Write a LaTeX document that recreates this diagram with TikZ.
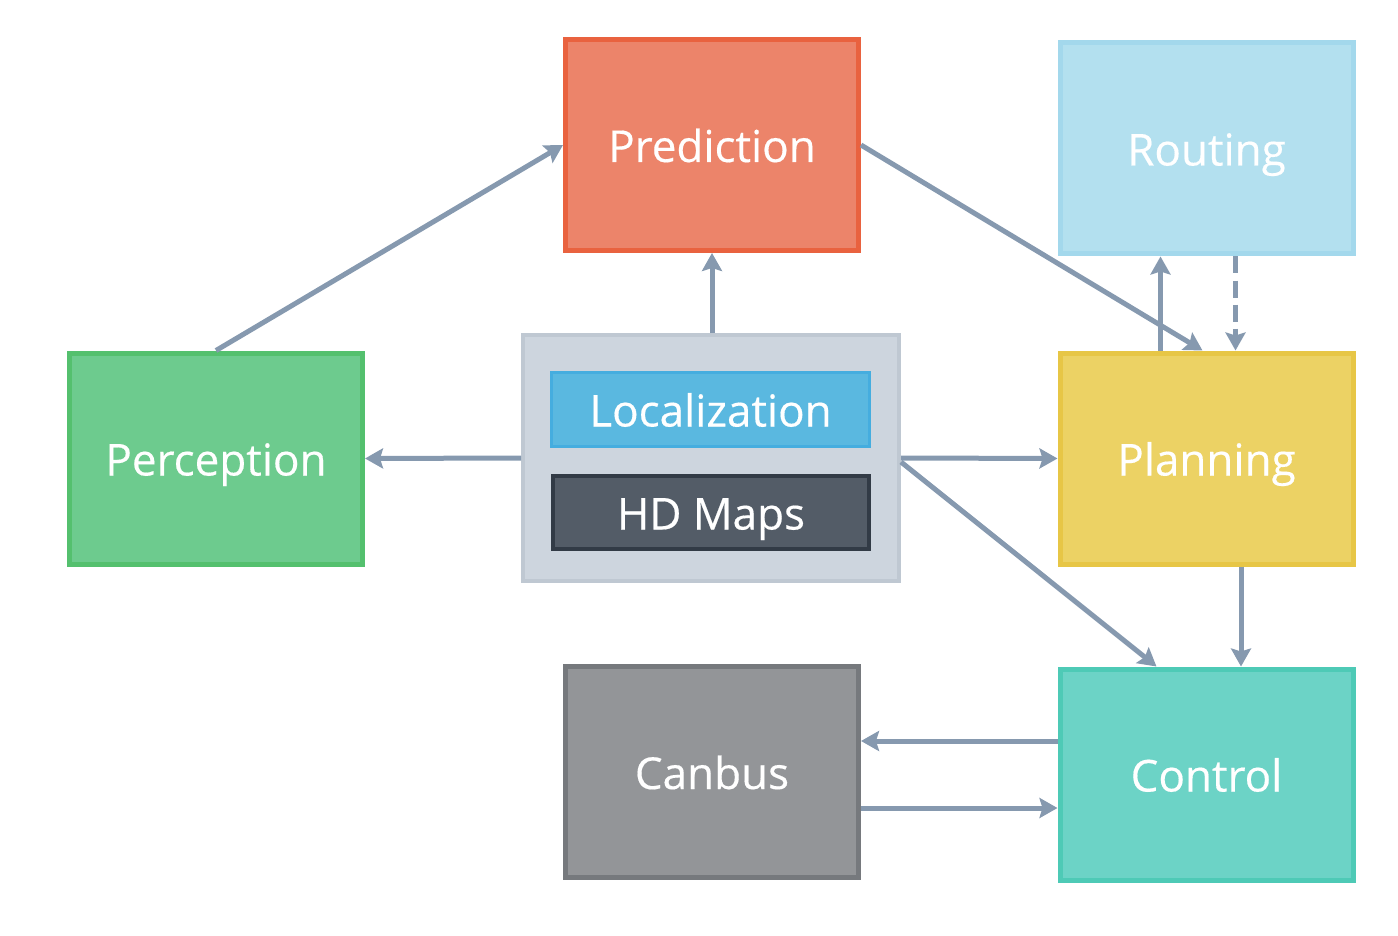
\documentclass[tikz,border=0pt]{standalone}
\usepackage{fontspec}
\setmainfont[FakeBold=0.35]{Open Sans}
\usetikzlibrary{arrows.meta,calc}
\definecolor{arrc}{HTML}{8699AF}
\definecolor{predF}{HTML}{EC846A}\definecolor{predB}{HTML}{E9623F}
\definecolor{routF}{HTML}{B3E0EF}\definecolor{routB}{HTML}{A3D8EC}
\definecolor{percF}{HTML}{6DCB8E}\definecolor{percB}{HTML}{54C06E}
\definecolor{planF}{HTML}{ECD264}\definecolor{planB}{HTML}{E7C646}
\definecolor{ctrlF}{HTML}{6CD3C6}\definecolor{ctrlB}{HTML}{4ECAB6}
\definecolor{canF}{HTML}{939598}\definecolor{canB}{HTML}{76797D}
\definecolor{hubF}{HTML}{CDD5DE}\definecolor{hubB}{HTML}{BFC8D2}
\definecolor{locF}{HTML}{5AB8E0}\definecolor{locB}{HTML}{45ADDF}
\definecolor{mapF}{HTML}{535C67}\definecolor{mapB}{HTML}{323B46}
\tikzset{
  label text/.style={text=white, font=\fontsize{44}{50}\selectfont, text height=41pt, text depth=7pt},
  module/.style={draw=#1B, fill=#1F, line width=5pt, minimum width=293pt, minimum height=211pt,
    inner sep=0pt, label text},
  arr/.style={draw=arrc, line width=5pt, -{Stealth[length=18pt,width=20pt,inset=3pt]}},
}
\begin{document}
\begin{tikzpicture}[x=1pt,y=-1pt]
\useasboundingbox (0,0) rectangle (1398,936);
\node[module=pred] (pred) at (712,145) {Prediction};
\node[module=rout] (route) at (1206.5,148.5) {Routing};
\node[module=perc] (percep) at (216,458.5) {Perception};
\node[module=plan] (plan) at (1206.5,458.5) {Planning};
\node[module=ctrl] (ctrl) at (1206.5,774.5) {Control};
\node[module=can] (canbus) at (712,772) {Canbus};
\node[draw=hubB, fill=hubF, line width=4pt, minimum width=376pt, minimum height=246pt, inner sep=0pt] (hub) at (711,458) {};
\node[draw=locB, fill=locF, line width=2.5pt, minimum width=318pt, minimum height=74pt, inner sep=0pt,
  label text] (loc) at (710.5,409.5) {Localization};
\node[draw=mapB, fill=mapF, line width=4pt, minimum width=316pt, minimum height=73pt, inner sep=0pt,
  label text] (maps) at (711,512.5) {HD Maps};
% connectors
\draw[arr] (percep.north) -- (pred.west);
\draw[arr] (hub.north -| pred.south) -- (pred.south);
\draw[arr] (hub.west) -- (percep.east);
\draw[arr] (hub.east) -- (plan.west);
\draw[arr] ($(hub.east)+(0,4)$) -- ($(ctrl.north)+(-50,0)$);
\draw[arr] (pred.east) -- ($(plan.north)+(-4,0)$);
\draw[arr] ($(plan.north)+(-46,0)$) -- ($(route.south)+(-46,0)$);
\draw[arr, dash pattern=on 17pt off 7pt] ($(route.south)+(29,0)$) -- ($(plan.north)+(29,0)$);
\draw[arr] ($(plan.south)+(34.5,0)$) -- ($(ctrl.north)+(34.5,0)$);
\coordinate (c1) at ($(ctrl.west)+(0,-33.5)$);
\coordinate (c2) at ($(canbus.east)+(0,36)$);
\draw[arr] (c1) -- (c1 -| canbus.east);
\draw[arr] (c2) -- (c2 -| ctrl.west);
\end{tikzpicture}
\end{document}
